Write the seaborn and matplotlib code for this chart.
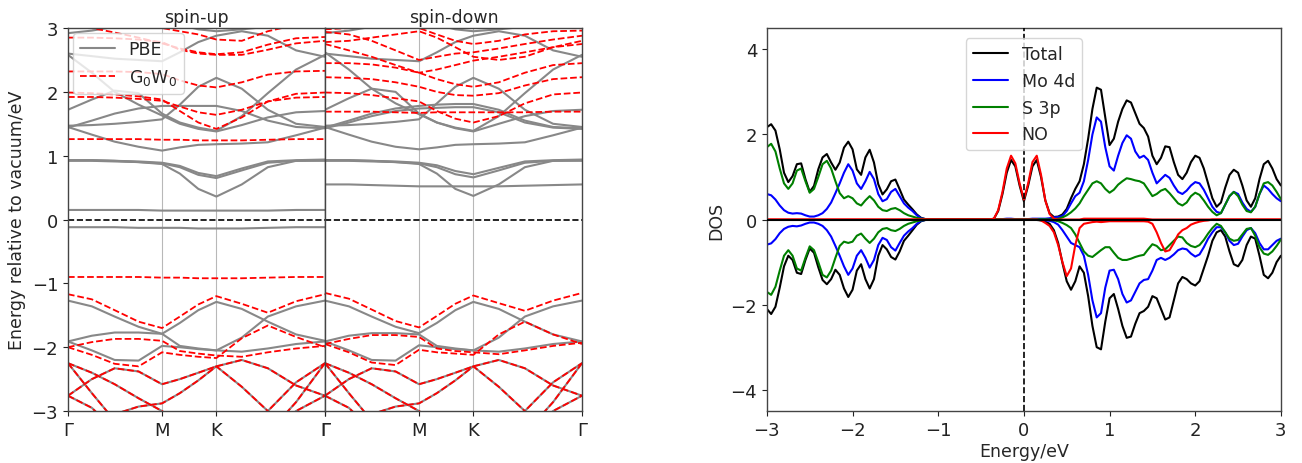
import numpy as np
import pandas as pd
import matplotlib
matplotlib.use("Agg")
import matplotlib.pyplot as plt
from matplotlib.lines import Line2D
import seaborn as sns

# ---------------- band structure data ----------------
# k-path in path-length units (G-M : M-K : K-G = 0.866 : 0.5 : 1)
kpath = [0, 0.22, 0.43, 0.65, 0.866, 1.03, 1.2, 1.366, 1.6, 1.84, 2.1, 2.366]
hs_pos = [0, 0.866, 1.366, 2.366]
hs_labels = ['Γ', 'M', 'K', 'Γ']

# deep valence bands (same for PBE and G0W0, both spins)
deep_bands = [
    [-2.25, -2.40, -2.58, -2.80, -3.00, -3.20, -3.40, -3.50, -3.50, -3.00, -2.55, -2.25],
    [-2.25, -2.72, -3.15, -3.50, -3.60, -3.60, -3.60, -3.60, -3.60, -3.35, -2.86, -2.25],
    [-2.76, -2.50, -2.33, -2.38, -2.58, -2.50, -2.40, -2.30, -2.20, -2.33, -2.60, -2.76],
    [-3.60, -3.40, -3.05, -2.93, -2.88, -2.72, -2.52, -2.30, -2.62, -3.00, -3.40, -3.60],
    [-2.76, -2.95, -3.30, -3.50, -3.60, -3.60, -3.60, -3.60, -3.60, -3.40, -3.00, -2.76],
]

up_pbe = [
    [-0.12, -0.12, -0.12, -0.13, -0.13, -0.13, -0.14, -0.14, -0.14, -0.13, -0.12, -0.12],
    [-1.27, -1.36, -1.52, -1.68, -1.79, -1.62, -1.42, -1.29, -1.40, -1.60, -1.80, -1.90],
    [-1.91, -1.82, -1.77, -1.77, -1.79, -1.98, -2.02, -2.05, -2.07, -2.02, -1.95, -1.91],
    [-1.91, -2.05, -2.20, -2.21, -1.98, -2.00, -2.03, -2.05, -1.85, -1.52, -1.36, -1.27],
    [0.15, 0.15, 0.15, 0.15, 0.14, 0.14, 0.14, 0.14, 0.14, 0.14, 0.15, 0.15],
    [0.93, 0.93, 0.92, 0.90, 0.87, 0.72, 0.48, 0.36, 0.55, 0.82, 0.92, 0.93],
    [0.92, 0.92, 0.91, 0.90, 0.88, 0.82, 0.70, 0.65, 0.77, 0.89, 0.92, 0.92],
    [0.93, 0.93, 0.92, 0.91, 0.89, 0.84, 0.73, 0.68, 0.80, 0.91, 0.93, 0.94],
    [1.45, 1.33, 1.22, 1.14, 1.08, 1.13, 1.17, 1.18, 1.19, 1.21, 1.32, 1.44],
    [1.47, 1.48, 1.50, 1.53, 1.57, 1.80, 2.08, 2.22, 2.05, 1.72, 1.50, 1.45],
    [1.72, 1.88, 2.02, 1.98, 1.66, 1.52, 1.44, 1.39, 1.62, 1.98, 2.35, 2.58],
    [2.58, 2.30, 2.00, 1.80, 1.63, 1.50, 1.42, 1.38, 1.48, 1.60, 1.68, 1.70],
    [1.44, 1.55, 1.66, 1.74, 1.78, 1.78, 1.78, 1.78, 1.70, 1.55, 1.45, 1.43],
    [2.60, 2.56, 2.52, 2.50, 2.48, 2.62, 2.78, 2.88, 2.95, 2.88, 2.65, 2.55],
    [2.92, 2.96, 3.02, 3.08, 3.10, 3.05, 2.98, 2.95, 2.98, 3.02, 3.05, 3.05],
] + deep_bands

up_gw = [
    [-0.90, -0.90, -0.90, -0.90, -0.91, -0.91, -0.92, -0.92, -0.92, -0.91, -0.90, -0.90],
    [-1.17, -1.25, -1.42, -1.60, -1.70, -1.52, -1.33, -1.20, -1.32, -1.46, -1.28, -1.17],
    [-2.00, -1.92, -1.87, -1.87, -1.90, -2.06, -2.10, -2.13, -2.15, -2.08, -2.02, -1.98],
    [-2.00, -2.12, -2.26, -2.30, -2.08, -2.12, -2.15, -2.17, -1.86, -1.66, -1.84, -2.00],
    [1.26, 1.26, 1.26, 1.26, 1.25, 1.25, 1.24, 1.24, 1.24, 1.25, 1.26, 1.26],
    [1.99, 1.98, 1.96, 1.93, 1.88, 1.70, 1.52, 1.42, 1.60, 1.85, 1.97, 1.99],
    [1.92, 1.92, 1.91, 1.89, 1.86, 1.77, 1.68, 1.64, 1.72, 1.85, 1.91, 1.92],
    [2.32, 2.32, 2.32, 2.31, 2.28, 2.18, 2.10, 2.07, 2.15, 2.27, 2.32, 2.33],
    [2.85, 2.85, 2.84, 2.82, 2.78, 2.66, 2.60, 2.58, 2.58, 2.66, 2.76, 2.80],
    [3.05, 3.00, 2.93, 2.85, 2.76, 2.68, 2.62, 2.59, 2.62, 2.74, 2.84, 2.86],
    [3.10, 3.10, 3.08, 3.05, 3.00, 2.95, 2.90, 2.82, 2.80, 2.95, 3.05, 3.05],
] + deep_bands

dn_pbe = [
    [-1.27, -1.36, -1.52, -1.68, -1.78, -1.62, -1.42, -1.29, -1.40, -1.60, -1.80, -1.91],
    [-1.91, -1.82, -1.78, -1.78, -1.80, -1.98, -2.02, -2.05, -2.07, -2.02, -1.95, -1.91],
    [-1.91, -2.05, -2.20, -2.21, -1.97, -2.00, -2.03, -2.05, -1.85, -1.52, -1.36, -1.27],
    [0.55, 0.55, 0.54, 0.53, 0.52, 0.52, 0.52, 0.52, 0.52, 0.53, 0.54, 0.55],
    [0.93, 0.93, 0.92, 0.90, 0.87, 0.72, 0.48, 0.37, 0.55, 0.82, 0.92, 0.93],
    [0.92, 0.92, 0.91, 0.90, 0.88, 0.82, 0.71, 0.66, 0.77, 0.89, 0.92, 0.92],
    [0.93, 0.93, 0.92, 0.91, 0.89, 0.85, 0.76, 0.71, 0.81, 0.91, 0.93, 0.94],
    [1.45, 1.33, 1.22, 1.14, 1.10, 1.13, 1.17, 1.18, 1.19, 1.21, 1.32, 1.44],
    [1.47, 1.48, 1.50, 1.53, 1.57, 1.82, 2.08, 2.22, 2.05, 1.72, 1.50, 1.45],
    [1.72, 1.90, 2.05, 2.00, 1.66, 1.52, 1.44, 1.39, 1.62, 1.98, 2.35, 2.58],
    [2.62, 2.35, 2.05, 1.82, 1.65, 1.52, 1.43, 1.38, 1.50, 1.62, 1.70, 1.72],
    [1.44, 1.55, 1.66, 1.74, 1.78, 1.80, 1.81, 1.81, 1.72, 1.55, 1.45, 1.43],
    [1.43, 1.52, 1.62, 1.70, 1.74, 1.75, 1.76, 1.76, 1.68, 1.52, 1.44, 1.42],
    [2.60, 2.56, 2.52, 2.50, 2.48, 2.62, 2.78, 2.88, 2.95, 2.88, 2.65, 2.55],
    [2.92, 2.96, 3.02, 3.08, 3.10, 3.05, 2.98, 2.95, 2.98, 3.02, 3.05, 3.05],
] + deep_bands

dn_gw = [
    [-1.15, -1.24, -1.41, -1.59, -1.69, -1.51, -1.32, -1.19, -1.31, -1.43, -1.27, -1.15],
    [-1.95, -1.87, -1.81, -1.81, -1.84, -2.02, -2.06, -2.08, -2.11, -2.05, -1.98, -1.93],
    [-1.95, -2.08, -2.24, -2.28, -2.04, -2.08, -2.10, -2.12, -1.80, -1.60, -1.80, -1.95],
    [1.69, 1.69, 1.69, 1.68, 1.67, 1.68, 1.68, 1.68, 1.68, 1.68, 1.69, 1.69],
    [1.99, 1.98, 1.95, 1.90, 1.85, 1.70, 1.58, 1.52, 1.62, 1.82, 1.96, 1.99],
    [2.23, 2.22, 2.20, 2.15, 2.08, 2.00, 1.95, 1.94, 1.98, 2.10, 2.20, 2.23],
    [2.45, 2.45, 2.43, 2.38, 2.30, 2.20, 2.12, 2.08, 2.15, 2.30, 2.42, 2.45],
    [2.75, 2.65, 2.55, 2.42, 2.30, 2.35, 2.42, 2.49, 2.55, 2.62, 2.70, 2.75],
    [2.78, 2.80, 2.85, 2.90, 2.95, 2.85, 2.70, 2.55, 2.50, 2.55, 2.70, 2.80],
    [2.94, 2.90, 2.80, 2.65, 2.50, 2.55, 2.60, 2.62, 2.68, 2.75, 2.82, 2.88],
    [2.98, 3.00, 3.02, 3.05, 3.00, 2.90, 2.80, 2.75, 2.80, 2.90, 2.95, 2.96],
] + deep_bands

# ---------------- DOS data (energy grid -3..3 eV, step 0.05) ----------------
energy = np.round(np.linspace(-3, 3, 121), 2)

tot_up = [2.17, 2.24, 2.09, 1.65, 1.10, 0.88, 1.02, 1.30, 1.32, 0.95,
          0.65, 0.79, 1.18, 1.46, 1.54, 1.34, 1.17, 1.34, 1.69, 1.83,
          1.65, 1.18, 1.05, 1.46, 1.64, 1.34, 0.83, 0.59, 0.71, 0.90,
          0.94, 0.71, 0.47, 0.35, 0.24, 0.12, 0.04, 0.01, 0, 0,
          0, 0, 0, 0, 0, 0, 0, 0, 0, 0,
          0, 0, 0, 0.02, 0.20, 0.60, 1.10, 1.40, 1.25, 0.80,
          0.43, 0.80, 1.25, 1.40, 1.00, 0.45, 0.15, 0.06, 0.07, 0.12,
          0.25, 0.50, 0.72, 0.90, 1.30, 1.90, 2.60, 3.10, 3.05, 2.40,
          1.75, 1.90, 2.30, 2.60, 2.80, 2.75, 2.50, 2.25, 2.15, 1.95,
          1.50, 1.30, 1.45, 1.72, 1.70, 1.35, 1.05, 0.95, 1.10, 1.35,
          1.50, 1.45, 1.20, 0.85, 0.50, 0.30, 0.40, 0.75, 1.05, 1.17,
          1.10, 0.80, 0.45, 0.30, 0.50, 0.95, 1.30, 1.38, 1.20, 0.95,
          0.80]
mo_up = [0.60, 0.57, 0.47, 0.33, 0.22, 0.16, 0.14, 0.15, 0.14, 0.10,
         0.07, 0.07, 0.10, 0.15, 0.25, 0.40, 0.62, 0.85, 1.10, 1.30,
         1.15, 0.85, 0.72, 0.90, 1.12, 0.95, 0.60, 0.43, 0.48, 0.65,
         0.72, 0.55, 0.38, 0.28, 0.20, 0.10, 0.03, 0.01, 0, 0,
         0, 0, 0, 0, 0, 0, 0, 0, 0, 0,
         0, 0, 0, 0, 0, 0.01, 0.02, 0.02, 0.01, 0.01,
         0.01, 0.01, 0.02, 0.02, 0.02, 0.02, 0.03, 0.05, 0.06, 0.08,
         0.20, 0.38, 0.55, 0.63, 0.90, 1.40, 2.00, 2.40, 2.30, 1.70,
         1.25, 1.15, 1.50, 1.80, 1.98, 1.90, 1.60, 1.45, 1.50, 1.40,
         1.10, 0.85, 0.95, 1.05, 0.98, 0.80, 0.65, 0.60, 0.68, 0.80,
         0.88, 0.85, 0.70, 0.50, 0.30, 0.18, 0.15, 0.35, 0.55, 0.65,
         0.60, 0.40, 0.25, 0.18, 0.30, 0.60, 0.80, 0.72, 0.60, 0.50,
         0.43]
s_up = [1.70, 1.78, 1.60, 1.20, 0.85, 0.72, 0.85, 1.15, 1.20, 0.90,
        0.63, 0.72, 1.00, 1.30, 1.38, 1.20, 0.90, 0.62, 0.50, 0.55,
        0.50, 0.38, 0.33, 0.45, 0.55, 0.45, 0.30, 0.22, 0.20, 0.25,
        0.27, 0.22, 0.15, 0.10, 0.07, 0.04, 0.02, 0.01, 0, 0,
        0, 0, 0, 0, 0, 0, 0, 0, 0, 0,
        0, 0, 0, 0, 0, 0, 0, 0, 0, 0,
        0, 0, 0, 0, 0, 0, 0, 0.01, 0.02, 0.05,
        0.10, 0.17, 0.26, 0.38, 0.55, 0.70, 0.85, 0.90, 0.85, 0.72,
        0.63, 0.70, 0.82, 0.90, 0.97, 0.95, 0.92, 0.90, 0.85, 0.70,
        0.55, 0.60, 0.68, 0.72, 0.62, 0.50, 0.38, 0.33, 0.40, 0.55,
        0.63, 0.58, 0.45, 0.30, 0.18, 0.10, 0.15, 0.35, 0.55, 0.65,
        0.55, 0.35, 0.20, 0.17, 0.30, 0.60, 0.85, 0.88, 0.80, 0.65,
        0.48]
no_up = [0, 0, 0, 0, 0, 0, 0, 0, 0, 0,
         0, 0, 0, 0, 0, 0, 0, 0, 0, 0,
         0, 0, 0, 0, 0, 0, 0, 0, 0, 0,
         0, 0, 0, 0, 0, 0, 0, 0, 0, 0,
         0, 0, 0, 0, 0, 0, 0, 0, 0, 0,
         0, 0, 0, 0.02, 0.22, 0.65, 1.20, 1.50, 1.32, 0.85,
         0.47, 0.85, 1.35, 1.50, 1.05, 0.45, 0.13, 0.02, 0, 0,
         0, 0, 0, 0, 0.02, 0.02, 0.02, 0.02, 0.02, 0.02,
         0.02, 0.02, 0.02, 0.02, 0.02, 0.02, 0.02, 0.02, 0.02, 0.01,
         0, 0, 0, 0, 0, 0, 0, 0, 0, 0,
         0, 0, 0, 0, 0, 0, 0, 0, 0, 0,
         0, 0, 0, 0, 0, 0, 0, 0, 0, 0,
         0]

tot_dn = [-2.10, -2.22, -2.05, -1.60, -1.10, -0.85, -0.95, -1.25, -1.28, -0.95,
          -0.68, -0.78, -1.12, -1.42, -1.52, -1.40, -1.18, -1.30, -1.62, -1.82,
          -1.65, -1.20, -1.05, -1.40, -1.62, -1.40, -0.85, -0.60, -0.70, -0.88,
          -0.94, -0.75, -0.50, -0.38, -0.25, -0.12, -0.04, -0.01, 0, 0,
          0, 0, 0, 0, 0, 0, 0, 0, 0, 0,
          0, 0, 0, 0, 0, 0, 0, 0, 0, 0,
          0, 0, 0, -0.01, -0.02, -0.05, -0.10, -0.25, -0.55, -1.02,
          -1.45, -1.65, -1.45, -1.10, -1.25, -1.80, -2.50, -3.00, -3.05, -2.40,
          -1.85, -1.75, -2.10, -2.50, -2.78, -2.75, -2.45, -2.20, -2.15, -2.05,
          -1.80, -1.85, -2.10, -2.35, -2.30, -1.90, -1.50, -1.35, -1.40, -1.50,
          -1.55, -1.45, -1.15, -0.85, -0.50, -0.30, -0.25, -0.40, -0.75, -1.05,
          -1.10, -0.95, -0.60, -0.40, -0.45, -0.85, -1.30, -1.38, -1.25, -1.00,
          -0.85]
mo_dn = [-0.59, -0.56, -0.46, -0.32, -0.22, -0.17, -0.15, -0.16, -0.14, -0.10,
         -0.07, -0.07, -0.10, -0.15, -0.25, -0.40, -0.62, -0.85, -1.10, -1.30,
         -1.15, -0.85, -0.72, -0.90, -1.13, -0.95, -0.60, -0.43, -0.48, -0.65,
         -0.73, -0.55, -0.38, -0.28, -0.20, -0.10, -0.03, -0.01, 0, 0,
         0, 0, 0, 0, 0, 0, 0, 0, 0, 0,
         0, 0, 0, 0, 0, 0, 0, 0, 0, 0,
         0, 0, 0, 0, -0.01, -0.02, -0.03, -0.06, -0.12, -0.25,
         -0.40, -0.55, -0.60, -0.65, -0.85, -1.30, -1.90, -2.30, -2.20, -1.60,
         -1.20, -1.18, -1.40, -1.75, -1.95, -1.90, -1.70, -1.50, -1.42, -1.40,
         -1.20, -0.95, -0.90, -0.95, -0.90, -0.82, -0.72, -0.68, -0.70, -0.80,
         -0.87, -0.82, -0.65, -0.45, -0.30, -0.18, -0.18, -0.30, -0.50, -0.60,
         -0.57, -0.40, -0.25, -0.20, -0.32, -0.55, -0.70, -0.70, -0.60, -0.50,
         -0.45]
s_dn = [-1.70, -1.77, -1.58, -1.20, -0.85, -0.72, -0.85, -1.15, -1.20, -0.90,
        -0.63, -0.72, -1.00, -1.30, -1.36, -1.20, -0.90, -0.62, -0.52, -0.55,
        -0.52, -0.38, -0.33, -0.45, -0.55, -0.45, -0.30, -0.22, -0.20, -0.25,
        -0.27, -0.22, -0.15, -0.10, -0.07, -0.04, -0.02, -0.01, 0, 0,
        0, 0, 0, 0, 0, 0, 0, 0, 0, 0,
        0, 0, 0, 0, 0, 0, 0, 0, 0, 0,
        0, 0, 0, 0, 0, 0, -0.01, -0.02, -0.04, -0.08,
        -0.13, -0.20, -0.35, -0.55, -0.75, -0.85, -0.88, -0.80, -0.72, -0.65,
        -0.65, -0.78, -0.90, -0.95, -0.95, -0.92, -0.88, -0.85, -0.83, -0.70,
        -0.58, -0.62, -0.72, -0.70, -0.60, -0.50, -0.40, -0.42, -0.55, -0.62,
        -0.65, -0.60, -0.48, -0.33, -0.20, -0.10, -0.15, -0.30, -0.45, -0.50,
        -0.48, -0.35, -0.22, -0.20, -0.38, -0.65, -0.80, -0.83, -0.75, -0.62,
        -0.47]
no_dn = [0, 0, 0, 0, 0, 0, 0, 0, 0, 0,
         0, 0, 0, 0, 0, 0, 0, 0, 0, 0,
         0, 0, 0, 0, 0, 0, 0, 0, 0, 0,
         0, 0, 0, 0, 0, 0, 0, 0, 0, 0,
         0, 0, 0, 0, 0, 0, 0, 0, 0, 0,
         0, 0, 0, 0, 0, 0, 0, 0, 0, 0,
         0, 0, 0, 0, -0.02, -0.08, -0.15, -0.30, -0.60, -1.00,
         -1.33, -1.15, -0.60, -0.20, -0.10, -0.08, -0.06, -0.05, -0.06, -0.05,
         -0.04, -0.04, -0.04, -0.04, -0.04, -0.04, -0.04, -0.04, -0.04, -0.05,
         -0.10, -0.30, -0.55, -0.75, -0.72, -0.55, -0.35, -0.25, -0.20, -0.12,
         -0.08, -0.05, -0.03, -0.02, 0, 0, 0, 0, 0, 0,
         0, 0, 0, 0, 0, 0, 0, 0, 0, 0,
         0]

dos_labels = ['Total', 'Mo 4d', 'S 3p', 'NO']
dos_colors = {'Total': '#000000', 'Mo 4d': '#0000ff', 'S 3p': '#008000', 'NO': '#ff0000'}

# ---------------- styling ----------------
sns.set_style("ticks")
plt.rcParams['font.family'] = ['DejaVu Sans']
plt.rcParams['axes.edgecolor'] = '#444444'
plt.rcParams['axes.linewidth'] = 1.0
plt.rcParams['xtick.color'] = '#222222'
plt.rcParams['ytick.color'] = '#222222'
FS = 13

fig = plt.figure(figsize=(13.02, 4.64), dpi=100)
ax_up = fig.add_axes([0.0522, 0.112, 0.1974, 0.8254])
ax_dn = fig.add_axes([0.2496, 0.112, 0.1974, 0.8254])
ax_dos = fig.add_axes([0.589, 0.112, 0.3948, 0.8254])


def bands_frame(bands):
    rows = []
    for i, b in enumerate(bands):
        for k, e in zip(kpath, b):
            rows.append((i, k, e))
    return pd.DataFrame(rows, columns=['band', 'k', 'E'])


def draw_bands(ax, pbe, gw, title):
    for p in hs_pos[1:-1]:
        ax.axvline(p, color='#b8b8b8', lw=0.8, zorder=0)
    sns.lineplot(data=bands_frame(pbe), x='k', y='E', units='band', estimator=None,
                 color='#888888', lw=1.5, sort=False, ax=ax)
    sns.lineplot(data=bands_frame(gw), x='k', y='E', units='band', estimator=None,
                 color='#ff0000', lw=1.3, linestyle='--', sort=False, ax=ax)
    ax.axhline(0, color='k', ls='--', lw=1.2)
    ax.set_xlim(hs_pos[0], hs_pos[-1])
    ax.set_ylim(-3, 3)
    ax.set_xticks(hs_pos)
    ax.set_xticklabels(hs_labels, fontsize=FS)
    ax.set_title(title, fontsize=FS - 0.5, pad=4)
    ax.set_xlabel('')
    ax.set_ylabel('')


draw_bands(ax_up, up_pbe, up_gw, 'spin-up')
draw_bands(ax_dn, dn_pbe, dn_gw, 'spin-down')
ax_up.set_yticks([-3, -2, -1, 0, 1, 2, 3])
ax_up.tick_params(axis='y', labelsize=FS)
ax_up.set_ylabel('Energy relative to vacuum/eV', fontsize=FS - 0.5)
ax_dn.set_yticks([])
handles = [Line2D([], [], color='#888888', lw=1.5),
           Line2D([], [], color='#ff0000', lw=1.3, ls='--')]
ax_up.legend(handles, ['PBE', 'G$_0$W$_0$'], loc='upper left', fontsize=FS - 0.5,
             framealpha=0.8, borderaxespad=0.3)

# ---------------- DOS ----------------
dos_rows = []
for lab, up, dn in zip(dos_labels, [tot_up, mo_up, s_up, no_up], [tot_dn, mo_dn, s_dn, no_dn]):
    for e, v in zip(energy, up):
        dos_rows.append((e, v, lab, 'up'))
    for e, v in zip(energy, dn):
        dos_rows.append((e, v, lab, 'down'))
dos_df = pd.DataFrame(dos_rows, columns=['energy', 'dos', 'label', 'spin'])

sns.lineplot(data=dos_df, x='energy', y='dos', hue='label', hue_order=dos_labels,
             units='spin', estimator=None, palette=dos_colors, lw=1.5, sort=False, ax=ax_dos)
ax_dos.axhline(0, color='k', lw=1.5, zorder=3)
ax_dos.axvline(0, color='k', ls='--', lw=1.2, zorder=3)
ax_dos.set_xlim(-3, 3)
ax_dos.set_ylim(-4.5, 4.5)
ax_dos.set_yticks([-4, -2, 0, 2, 4])
ax_dos.tick_params(labelsize=FS)
ax_dos.set_xlabel('Energy/eV', fontsize=FS - 0.5, labelpad=2)
ax_dos.set_ylabel('DOS', fontsize=FS - 0.5)
sns.move_legend(ax_dos, 'upper center', title=None, fontsize=FS - 0.5,
                framealpha=0.8, borderaxespad=0.6)

fig.savefig('out.png', dpi=100)
